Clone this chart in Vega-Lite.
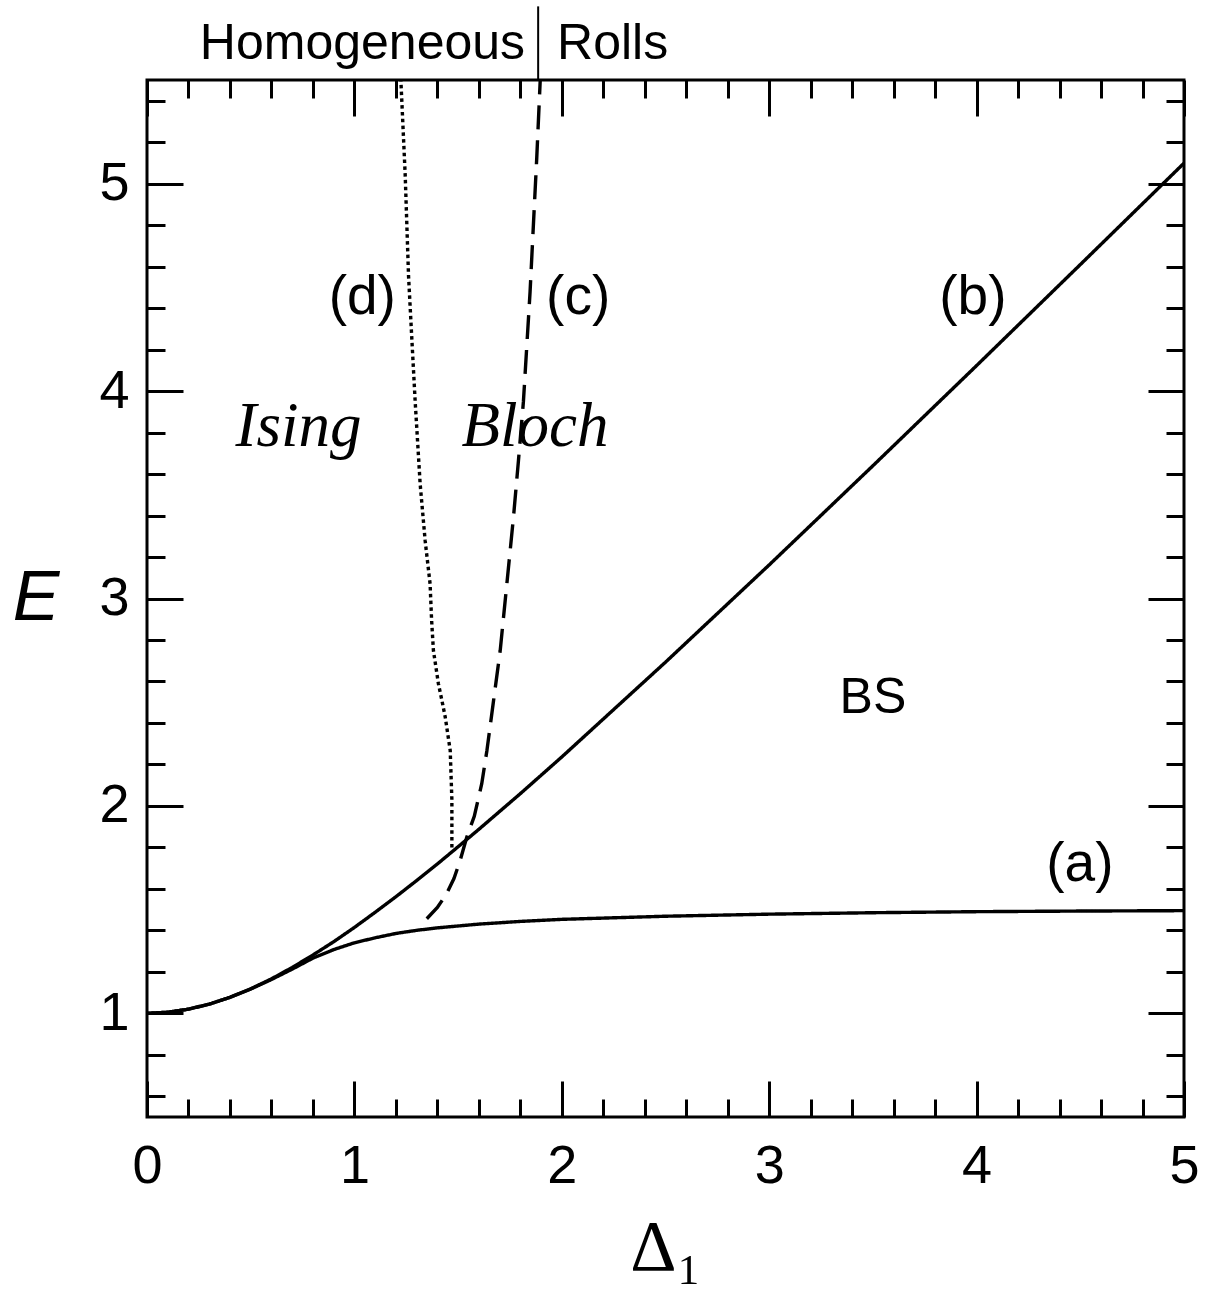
{
  "$schema": "https://vega.github.io/schema/vega-lite/v6.json",
  "width": 1037,
  "height": 1037,
  "autosize": {"type": "none"},
  "padding": {"left": 147, "top": 80, "right": 23, "bottom": 177},
  "background": "white",
  "config": {
    "view": {"stroke": "black", "strokeWidth": 3},
    "axis": {"domain": false, "grid": false, "tickColor": "black", "tickWidth": 3, "labelColor": "black", "labelFont": "Liberation Sans", "titleColor": "black", "labelFlush": false}
  },
  "datasets": {
    "curves": [
      {"curve": "a", "i": 0, "x": 0, "y": 1.0},
      {"curve": "a", "i": 1, "x": 0.1, "y": 1.005},
      {"curve": "a", "i": 2, "x": 0.2, "y": 1.02},
      {"curve": "a", "i": 3, "x": 0.3, "y": 1.044},
      {"curve": "a", "i": 4, "x": 0.4, "y": 1.077},
      {"curve": "a", "i": 5, "x": 0.5, "y": 1.117},
      {"curve": "a", "i": 6, "x": 0.6, "y": 1.163},
      {"curve": "a", "i": 7, "x": 0.7, "y": 1.213},
      {"curve": "a", "i": 8, "x": 0.8, "y": 1.266},
      {"curve": "a", "i": 9, "x": 0.9, "y": 1.307},
      {"curve": "a", "i": 10, "x": 1.0, "y": 1.34},
      {"curve": "a", "i": 11, "x": 1.1, "y": 1.364},
      {"curve": "a", "i": 12, "x": 1.2, "y": 1.385},
      {"curve": "a", "i": 13, "x": 1.3, "y": 1.4},
      {"curve": "a", "i": 14, "x": 1.4, "y": 1.412},
      {"curve": "a", "i": 15, "x": 1.6, "y": 1.43},
      {"curve": "a", "i": 16, "x": 1.8, "y": 1.443},
      {"curve": "a", "i": 17, "x": 2.0, "y": 1.453},
      {"curve": "a", "i": 18, "x": 2.5, "y": 1.468},
      {"curve": "a", "i": 19, "x": 3.0, "y": 1.478},
      {"curve": "a", "i": 20, "x": 3.5, "y": 1.485},
      {"curve": "a", "i": 21, "x": 4.0, "y": 1.49},
      {"curve": "a", "i": 22, "x": 4.5, "y": 1.493},
      {"curve": "a", "i": 23, "x": 5.0, "y": 1.495},
      {"curve": "b", "i": 0, "x": 0, "y": 1.0},
      {"curve": "b", "i": 1, "x": 0.1, "y": 1.005},
      {"curve": "b", "i": 2, "x": 0.2, "y": 1.02},
      {"curve": "b", "i": 3, "x": 0.3, "y": 1.044},
      {"curve": "b", "i": 4, "x": 0.4, "y": 1.077},
      {"curve": "b", "i": 5, "x": 0.5, "y": 1.118},
      {"curve": "b", "i": 6, "x": 0.6, "y": 1.166},
      {"curve": "b", "i": 7, "x": 0.7, "y": 1.221},
      {"curve": "b", "i": 8, "x": 0.8, "y": 1.281},
      {"curve": "b", "i": 9, "x": 0.9, "y": 1.345},
      {"curve": "b", "i": 10, "x": 1.0, "y": 1.414},
      {"curve": "b", "i": 11, "x": 1.1, "y": 1.487},
      {"curve": "b", "i": 12, "x": 1.2, "y": 1.562},
      {"curve": "b", "i": 13, "x": 1.3, "y": 1.64},
      {"curve": "b", "i": 14, "x": 1.4, "y": 1.72},
      {"curve": "b", "i": 15, "x": 1.5, "y": 1.803},
      {"curve": "b", "i": 16, "x": 1.6, "y": 1.887},
      {"curve": "b", "i": 17, "x": 1.8, "y": 2.059},
      {"curve": "b", "i": 18, "x": 2.0, "y": 2.236},
      {"curve": "b", "i": 19, "x": 2.5, "y": 2.693},
      {"curve": "b", "i": 20, "x": 3.0, "y": 3.162},
      {"curve": "b", "i": 21, "x": 3.5, "y": 3.64},
      {"curve": "b", "i": 22, "x": 4.0, "y": 4.123},
      {"curve": "b", "i": 23, "x": 4.5, "y": 4.61},
      {"curve": "b", "i": 24, "x": 5.0, "y": 5.099},
      {"curve": "c", "i": 0, "x": 1.349, "y": 1.456},
      {"curve": "c", "i": 1, "x": 1.4, "y": 1.51},
      {"curve": "c", "i": 2, "x": 1.445, "y": 1.577},
      {"curve": "c", "i": 3, "x": 1.48, "y": 1.65},
      {"curve": "c", "i": 4, "x": 1.51, "y": 1.737},
      {"curve": "c", "i": 5, "x": 1.542, "y": 1.85},
      {"curve": "c", "i": 6, "x": 1.578, "y": 1.95},
      {"curve": "c", "i": 7, "x": 1.614, "y": 2.107},
      {"curve": "c", "i": 8, "x": 1.639, "y": 2.267},
      {"curve": "c", "i": 9, "x": 1.671, "y": 2.508},
      {"curve": "c", "i": 10, "x": 1.703, "y": 2.749},
      {"curve": "c", "i": 11, "x": 1.735, "y": 3.07},
      {"curve": "c", "i": 12, "x": 1.767, "y": 3.392},
      {"curve": "c", "i": 13, "x": 1.791, "y": 3.665},
      {"curve": "c", "i": 14, "x": 1.815, "y": 3.95},
      {"curve": "c", "i": 15, "x": 1.847, "y": 4.478},
      {"curve": "c", "i": 16, "x": 1.863, "y": 4.8},
      {"curve": "c", "i": 17, "x": 1.879, "y": 5.12},
      {"curve": "c", "i": 18, "x": 1.896, "y": 5.5},
      {"curve": "d", "i": 0, "x": 1.47, "y": 1.8},
      {"curve": "d", "i": 1, "x": 1.47, "y": 1.9},
      {"curve": "d", "i": 2, "x": 1.47, "y": 2.03},
      {"curve": "d", "i": 3, "x": 1.462, "y": 2.267},
      {"curve": "d", "i": 4, "x": 1.438, "y": 2.428},
      {"curve": "d", "i": 5, "x": 1.422, "y": 2.508},
      {"curve": "d", "i": 6, "x": 1.405, "y": 2.589},
      {"curve": "d", "i": 7, "x": 1.381, "y": 2.749},
      {"curve": "d", "i": 8, "x": 1.372, "y": 2.9},
      {"curve": "d", "i": 9, "x": 1.365, "y": 3.07},
      {"curve": "d", "i": 10, "x": 1.341, "y": 3.28},
      {"curve": "d", "i": 11, "x": 1.317, "y": 3.553},
      {"curve": "d", "i": 12, "x": 1.293, "y": 3.95},
      {"curve": "d", "i": 13, "x": 1.277, "y": 4.25},
      {"curve": "d", "i": 14, "x": 1.261, "y": 4.556},
      {"curve": "d", "i": 15, "x": 1.245, "y": 5.04},
      {"curve": "d", "i": 16, "x": 1.224, "y": 5.5}
    ],
    "frame": [{"x": 0, "y": 0.5}, {"x": 5, "y": 5.5}],
    "labelsSans": [
      {"x": 4.498, "y": 1.636, "t": "(a)"},
      {"x": 3.982, "y": 4.373, "t": "(b)"},
      {"x": 2.079, "y": 4.373, "t": "(c)"},
      {"x": 1.038, "y": 4.373, "t": "(d)"}
    ],
    "labelsBS": [{"x": 3.5, "y": 2.446, "t": "BS"}],
    "labelsSerif": [
      {"x": 0.73, "y": 3.737, "t": "Ising"},
      {"x": 1.871, "y": 3.737, "t": "Bloch"}
    ],
    "labelLeft": [{"x": 1.823, "y": 5.603, "t": "Homogeneous"}],
    "labelRight": [{"x": 1.977, "y": 5.603, "t": "Rolls"}],
    "separator": [{"x": 1.886, "y": 5.5, "y2": 5.855}]
  },
  "layer": [
    {
      "data": {"name": "curves"},
      "mark": {"type": "line", "color": "black", "strokeWidth": 3.4},
      "encoding": {
        "x": {"field": "x", "type": "quantitative", "scale": {"domain": [0, 5], "nice": false, "zero": false},
          "axis": {"orient": "bottom", "ticks": false, "values": [0, 1, 2, 3, 4, 5], "format": "d", "labelFontSize": 54, "labelPadding": 22,
            "title": "Δ₁", "titleFont": "Liberation Serif", "titleFontSize": 72, "titleFontWeight": "normal", "titlePadding": 19}},
        "y": {"field": "y", "type": "quantitative", "scale": {"domain": [0.5, 5.5], "nice": false, "zero": false},
          "axis": {"orient": "left", "ticks": false, "values": [1, 2, 3, 4, 5], "format": "d", "labelFontSize": 54, "labelPadding": 18,
            "title": "E", "titleAngle": 0, "titleAlign": "right", "titleBaseline": "middle", "titleFont": "Liberation Sans", "titleFontStyle": "italic", "titleFontSize": 70, "titleFontWeight": "normal", "titlePadding": 40}},
        "detail": {"field": "curve", "type": "nominal"},
        "order": {"field": "i", "type": "quantitative"},
        "strokeDash": {"field": "curve", "type": "nominal", "scale": {"domain": ["a", "b", "c", "d"], "range": [[1, 0], [1, 0], [24, 11], [3.5, 3.3]]}, "legend": null}
      }
    },
    {
      "data": {"name": "frame"},
      "mark": {"type": "point", "opacity": 0},
      "encoding": {
        "x": {"field": "x", "type": "quantitative", "scale": {"domain": [0, 5], "nice": false, "zero": false},
          "axis": {"orient": "bottom", "labels": false, "title": null, "tickSize": -36, "values": [0, 1, 2, 3, 4, 5]}},
        "y": {"field": "y", "type": "quantitative", "scale": {"domain": [0.5, 5.5], "nice": false, "zero": false},
          "axis": {"orient": "left", "labels": false, "title": null, "tickSize": -36, "values": [1, 2, 3, 4, 5]}}
      }
    },
    {
      "data": {"name": "frame"},
      "mark": {"type": "point", "opacity": 0},
      "encoding": {
        "x": {"field": "x", "type": "quantitative", "scale": {"domain": [0, 5], "nice": false, "zero": false},
          "axis": {"orient": "bottom", "labels": false, "title": null, "tickSize": -18, "values": [0.2, 0.4, 0.6, 0.8, 1.2, 1.4, 1.6, 1.8, 2.2, 2.4, 2.6, 2.8, 3.2, 3.4, 3.6, 3.8, 4.2, 4.4, 4.6, 4.8]}},
        "y": {"field": "y", "type": "quantitative", "scale": {"domain": [0.5, 5.5], "nice": false, "zero": false},
          "axis": {"orient": "left", "labels": false, "title": null, "tickSize": -18, "values": [0.6, 0.8, 1.2, 1.4, 1.6, 1.8, 2.2, 2.4, 2.6, 2.8, 3.2, 3.4, 3.6, 3.8, 4.2, 4.4, 4.6, 4.8, 5.2, 5.4]}}
      }
    },
    {
      "data": {"name": "frame"},
      "mark": {"type": "point", "opacity": 0},
      "encoding": {
        "x": {"field": "x", "type": "quantitative", "scale": {"domain": [0, 5], "nice": false, "zero": false},
          "axis": {"orient": "top", "labels": false, "title": null, "tickSize": -36, "values": [0, 1, 2, 3, 4, 5]}},
        "y": {"field": "y", "type": "quantitative", "scale": {"domain": [0.5, 5.5], "nice": false, "zero": false},
          "axis": {"orient": "right", "labels": false, "title": null, "tickSize": -36, "values": [1, 2, 3, 4, 5]}}
      }
    },
    {
      "data": {"name": "frame"},
      "mark": {"type": "point", "opacity": 0},
      "encoding": {
        "x": {"field": "x", "type": "quantitative", "scale": {"domain": [0, 5], "nice": false, "zero": false},
          "axis": {"orient": "top", "labels": false, "title": null, "tickSize": -18, "values": [0.2, 0.4, 0.6, 0.8, 1.2, 1.4, 1.6, 1.8, 2.2, 2.4, 2.6, 2.8, 3.2, 3.4, 3.6, 3.8, 4.2, 4.4, 4.6, 4.8]}},
        "y": {"field": "y", "type": "quantitative", "scale": {"domain": [0.5, 5.5], "nice": false, "zero": false},
          "axis": {"orient": "right", "labels": false, "title": null, "tickSize": -18, "values": [0.6, 0.8, 1.2, 1.4, 1.6, 1.8, 2.2, 2.4, 2.6, 2.8, 3.2, 3.4, 3.6, 3.8, 4.2, 4.4, 4.6, 4.8, 5.2, 5.4]}}
      }
    },
    {
      "data": {"name": "labelsSans"},
      "mark": {"type": "text", "font": "Liberation Sans", "fontSize": 55, "align": "center", "baseline": "alphabetic", "color": "black"},
      "encoding": {
        "x": {"field": "x", "type": "quantitative", "scale": {"domain": [0, 5], "nice": false, "zero": false}, "axis": null},
        "y": {"field": "y", "type": "quantitative", "scale": {"domain": [0.5, 5.5], "nice": false, "zero": false}, "axis": null},
        "text": {"field": "t"}
      }
    },
    {
      "data": {"name": "labelsBS"},
      "mark": {"type": "text", "font": "Liberation Sans", "fontSize": 50, "align": "center", "baseline": "alphabetic", "color": "black"},
      "encoding": {
        "x": {"field": "x", "type": "quantitative", "scale": {"domain": [0, 5], "nice": false, "zero": false}, "axis": null},
        "y": {"field": "y", "type": "quantitative", "scale": {"domain": [0.5, 5.5], "nice": false, "zero": false}, "axis": null},
        "text": {"field": "t"}
      }
    },
    {
      "data": {"name": "labelsSerif"},
      "mark": {"type": "text", "font": "Liberation Serif", "fontStyle": "italic", "fontSize": 63, "align": "center", "baseline": "alphabetic", "color": "black"},
      "encoding": {
        "x": {"field": "x", "type": "quantitative", "scale": {"domain": [0, 5], "nice": false, "zero": false}, "axis": null},
        "y": {"field": "y", "type": "quantitative", "scale": {"domain": [0.5, 5.5], "nice": false, "zero": false}, "axis": null},
        "text": {"field": "t"}
      }
    },
    {
      "data": {"name": "labelLeft"},
      "mark": {"type": "text", "font": "Liberation Sans", "fontSize": 50, "align": "right", "baseline": "alphabetic", "color": "black"},
      "encoding": {
        "x": {"field": "x", "type": "quantitative", "scale": {"domain": [0, 5], "nice": false, "zero": false}, "axis": null},
        "y": {"field": "y", "type": "quantitative", "scale": {"domain": [0.5, 5.5], "nice": false, "zero": false}, "axis": null},
        "text": {"field": "t"}
      }
    },
    {
      "data": {"name": "labelRight"},
      "mark": {"type": "text", "font": "Liberation Sans", "fontSize": 50, "align": "left", "baseline": "alphabetic", "color": "black"},
      "encoding": {
        "x": {"field": "x", "type": "quantitative", "scale": {"domain": [0, 5], "nice": false, "zero": false}, "axis": null},
        "y": {"field": "y", "type": "quantitative", "scale": {"domain": [0.5, 5.5], "nice": false, "zero": false}, "axis": null},
        "text": {"field": "t"}
      }
    },
    {
      "data": {"name": "separator"},
      "mark": {"type": "rule", "color": "black", "strokeWidth": 2},
      "encoding": {
        "x": {"field": "x", "type": "quantitative", "scale": {"domain": [0, 5], "nice": false, "zero": false}, "axis": null},
        "y": {"field": "y", "type": "quantitative", "scale": {"domain": [0.5, 5.5], "nice": false, "zero": false}, "axis": null},
        "y2": {"field": "y2"}
      }
    }
  ],
  "resolve": {"axis": {"x": "independent", "y": "independent"}}
}
